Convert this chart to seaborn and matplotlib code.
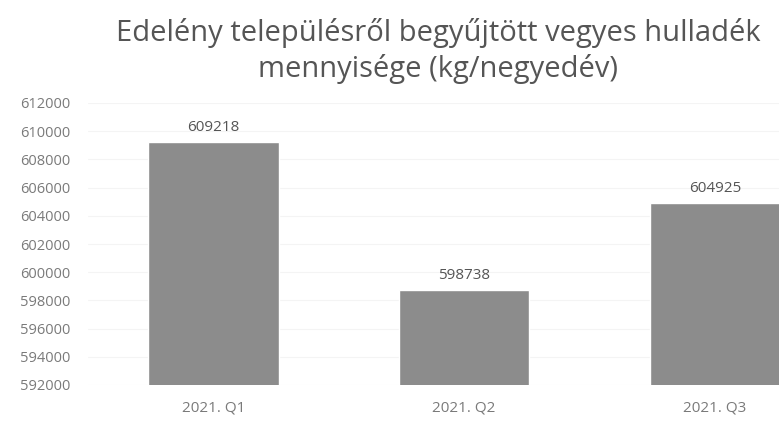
import matplotlib
matplotlib.use("Agg")
import matplotlib.pyplot as plt
import seaborn as sns
import pandas as pd

quarters = ["2021. Q1", "2021. Q2", "2021. Q3"]
amounts = [609218, 598738, 604925]
yticks = list(range(592000, 612001, 2000))
title = "Edelény településről begyűjtött vegyes hulladék\nmennyisége (kg/negyedév)"

df = pd.DataFrame({"quarter": quarters, "kg": amounts})

sns.set_style("white")
plt.rcParams["font.family"] = ["Open Sans", "DejaVu Sans"]

fig = plt.figure(figsize=(7.79, 4.26), dpi=100)
ax = fig.add_axes([88 / 779, 1 - 385 / 426, 1 - 88 / 779, (385 - 103) / 426])

sns.barplot(data=df, x="quarter", y="kg", color="#8c8c8c", width=0.52,
            saturation=1, ax=ax, zorder=2)

ax.set_ylim(592000, 612000)
ax.set_xlim(-0.5, 2.256)
ax.set_yticks(yticks)
ax.set_yticklabels([str(v) for v in yticks], fontsize=10.5, color="#7a7a7a")
ax.tick_params(axis="x", labelsize=11, labelcolor="#7a7a7a", length=0, pad=11)
ax.tick_params(axis="y", length=0, pad=13)
ax.yaxis.grid(True, color="#f4f4f4", linewidth=0.8, zorder=0)
ax.set_xlabel("")
ax.set_ylabel("")
for s in ax.spines.values():
    s.set_visible(False)

for i, v in enumerate(amounts):
    ax.text(i, v + 500, str(v), ha="center", va="bottom", fontsize=11, color="#555555")

fig.text(438 / 779, 1 - 51 / 426, title, ha="center", va="center",
         fontsize=21, color="#555555", linespacing=1.3)

fig.savefig("out.png", dpi=100)
